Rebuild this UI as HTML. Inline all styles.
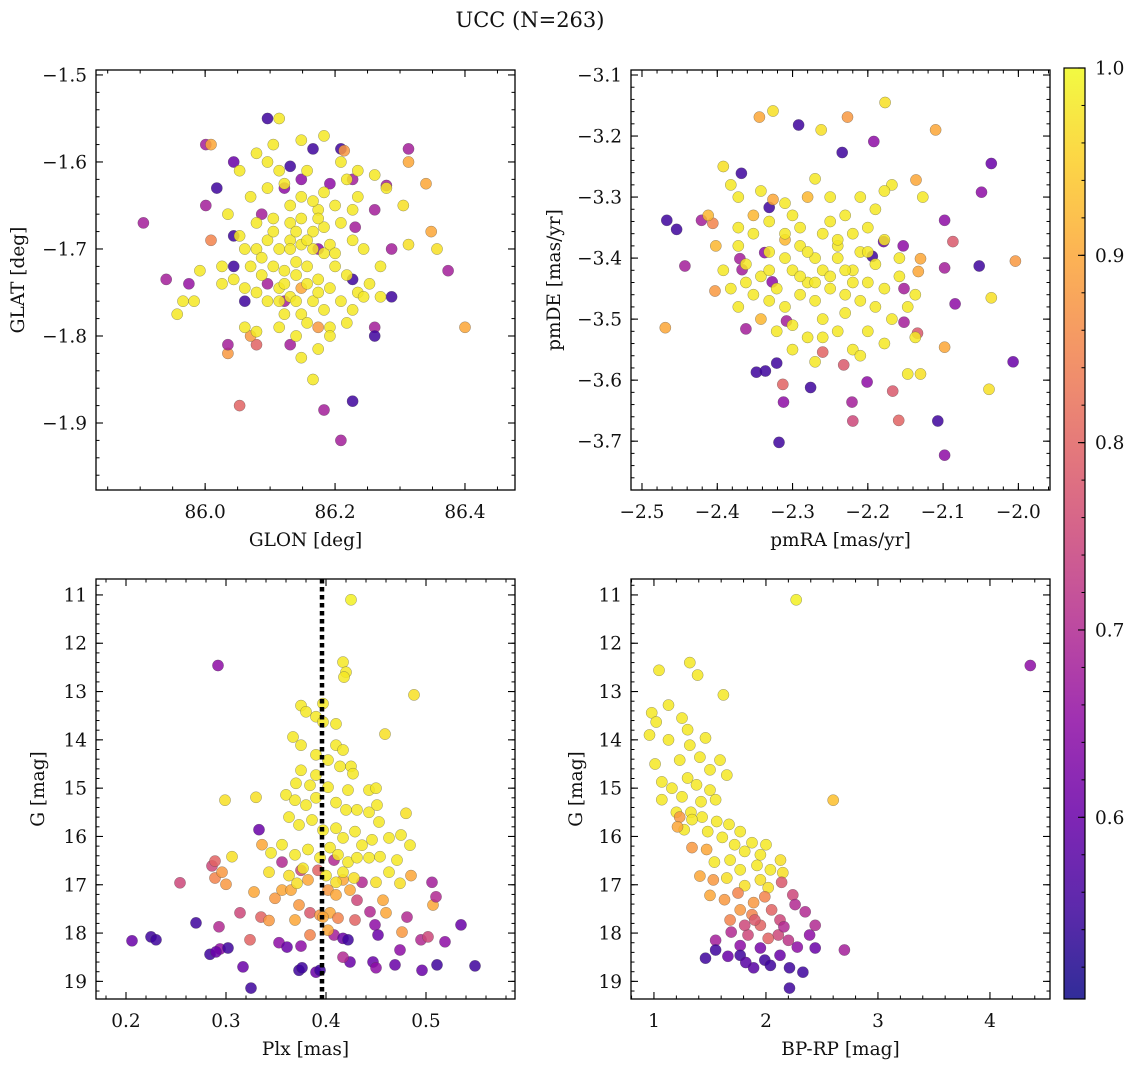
<!DOCTYPE html>
<html><head><meta charset="utf-8"><style>
html,body{margin:0;padding:0;background:#fff}
svg{display:block}
text{font-family:"DejaVu Serif","Liberation Serif",serif;fill:#111}
</style></head><body>
<svg id="fig" width="1136" height="1067" viewBox="0 0 1136 1067" xmlns="http://www.w3.org/2000/svg">
<text x="530" y="27" font-size="21" text-anchor="middle">UCC (N=263)</text>
</svg>
<script>
// ---------- data: [x, y, membership probability] ----------
const glonGlatStars = [[85.905,-1.67,.68],[85.94,-1.735,.68],[85.975,-1.74,.66],[86.001,-1.58,.68],[86.009,-1.58,.9],[86.044,-1.60,.6],[86.018,-1.63,.55],[86.001,-1.65,.68],[86.044,-1.685,.55],[86.009,-1.69,.85],[86.044,-1.72,.55],[86.061,-1.76,.55],[86.035,-1.82,.88],[86.035,-1.81,.68],[86.053,-1.88,.8],[86.096,-1.55,.55],[86.131,-1.605,.55],[86.087,-1.66,.68],[86.122,-1.63,.65],[86.166,-1.585,.55],[86.148,-1.62,.65],[86.192,-1.625,.65],[86.209,-1.585,.55],[86.214,-1.587,.88],[86.227,-1.62,.68],[86.261,-1.655,.68],[86.231,-1.675,.68],[86.287,-1.70,.68],[86.313,-1.585,.68],[86.313,-1.60,.9],[86.340,-1.625,.9],[86.348,-1.68,.9],[86.374,-1.725,.68],[86.40,-1.79,.9],[86.313,-1.695,.97],[86.357,-1.70,.97],[86.305,-1.65,.97],[86.261,-1.79,.68],[86.261,-1.80,.55],[86.227,-1.875,.55],[86.183,-1.885,.68],[86.209,-1.92,.68],[86.287,-1.755,.55],[86.096,-1.74,.68],[86.131,-1.81,.68],[86.079,-1.81,.8],[86.070,-1.80,.88],[86.174,-1.79,.88],[86.148,-1.745,.9],[86.279,-1.627,.68],[86.227,-1.735,.55],[86.174,-1.70,.65],[86.122,-1.76,.68],
[86.114,-1.55,.98],[86.183,-1.57,.98],[86.209,-1.60,.98],[86.079,-1.59,.98],[86.096,-1.60,.98],[86.053,-1.61,.98],[86.157,-1.61,.98],[86.235,-1.61,.98],[86.261,-1.615,.98],[86.279,-1.63,.98],[86.235,-1.64,.98],[86.2,-1.65,.98],[86.174,-1.655,.98],[86.122,-1.625,.98],[86.096,-1.63,.98],[86.07,-1.64,.98],[86.035,-1.66,.98],[86.053,-1.685,.98],[86.061,-1.70,.98],[86.079,-1.67,.98],[86.105,-1.665,.98],[86.131,-1.67,.98],[86.148,-1.665,.98],[86.166,-1.68,.98],[86.183,-1.675,.98],[86.209,-1.67,.98],[86.227,-1.69,.98],[86.244,-1.70,.98],[86.27,-1.72,.98],[86.253,-1.74,.98],[86.235,-1.75,.98],[86.218,-1.73,.98],[86.2,-1.72,.98],[86.183,-1.705,.98],[86.166,-1.70,.98],[86.148,-1.695,.98],[86.131,-1.69,.98],[86.114,-1.70,.98],[86.096,-1.69,.98],[86.079,-1.70,.98],[86.07,-1.72,.98],[86.087,-1.73,.98],[86.105,-1.72,.98],[86.122,-1.725,.98],[86.14,-1.73,.98],[86.157,-1.72,.98],[86.174,-1.735,.98],[86.192,-1.745,.98],[86.209,-1.76,.98],[86.227,-1.77,.98],[86.244,-1.755,.98],[86.27,-1.755,.98],[86.183,-1.77,.98],[86.166,-1.76,.98],[86.148,-1.775,.98],[86.131,-1.755,.98],[86.114,-1.745,.98],[86.096,-1.76,.98],[86.079,-1.75,.98],[86.061,-1.745,.98],[86.044,-1.735,.98],[86.026,-1.72,.98],[85.992,-1.725,.98],[85.966,-1.76,.98],[85.957,-1.775,.98],[85.983,-1.76,.98],[86.026,-1.74,.98],[86.061,-1.79,.98],[86.079,-1.795,.98],[86.114,-1.79,.98],[86.14,-1.80,.98],[86.157,-1.785,.98],[86.192,-1.79,.98],[86.218,-1.785,.98],[86.148,-1.825,.98],[86.166,-1.85,.98],[86.174,-1.815,.98],[86.192,-1.80,.98],[86.131,-1.65,.98],[86.148,-1.64,.98],[86.166,-1.645,.98],[86.183,-1.635,.98],[86.105,-1.58,.98],[86.148,-1.575,.98],[86.218,-1.62,.98],[86.227,-1.655,.98],[86.114,-1.61,.98],[86.131,-1.70,.98],[86.122,-1.74,.98],[86.14,-1.715,.98],[86.157,-1.74,.98],[86.174,-1.75,.98],[86.192,-1.695,.98],[86.2,-1.705,.98],[86.087,-1.71,.98],[86.105,-1.68,.98],[86.14,-1.68,.98],[86.157,-1.69,.98],[86.174,-1.665,.98],[86.114,-1.76,.98],[86.122,-1.775,.98],[86.14,-1.76,.98]];

const pmStars = [[-2.467,-3.338,.55],[-2.454,-3.353,.55],[-2.421,-3.338,.68],[-2.406,-3.343,.85],[-2.469,-3.514,.9],[-2.443,-3.413,.68],[-2.403,-3.454,.88],[-2.368,-3.261,.55],[-2.37,-3.401,.68],[-2.367,-3.419,.68],[-2.348,-3.587,.55],[-2.336,-3.585,.55],[-2.321,-3.572,.55],[-2.337,-3.391,.65],[-2.331,-3.317,.55],[-2.326,-3.304,.9],[-2.327,-3.439,.65],[-2.362,-3.516,.68],[-2.344,-3.169,.9],[-2.326,-3.159,.97],[-2.292,-3.182,.55],[-2.308,-3.503,.68],[-2.313,-3.607,.8],[-2.276,-3.612,.55],[-2.312,-3.636,.65],[-2.318,-3.702,.55],[-2.234,-3.227,.55],[-2.227,-3.169,.88],[-2.221,-3.636,.68],[-2.22,-3.667,.75],[-2.232,-3.575,.78],[-2.26,-3.554,.8],[-2.201,-3.603,.65],[-2.192,-3.209,.65],[-2.179,-3.373,.6],[-2.153,-3.38,.65],[-2.152,-3.45,.68],[-2.152,-3.505,.68],[-2.167,-3.618,.78],[-2.159,-3.666,.8],[-2.134,-3.523,.78],[-2.133,-3.422,.9],[-2.13,-3.401,.9],[-2.098,-3.416,.68],[-2.098,-3.338,.65],[-2.098,-3.546,.9],[-2.107,-3.667,.55],[-2.098,-3.723,.65],[-2.084,-3.475,.65],[-2.087,-3.373,.78],[-2.052,-3.413,.55],[-2.049,-3.292,.65],[-2.036,-3.245,.6],[-2.007,-3.57,.6],[-2.004,-3.405,.88],[-2.039,-3.615,.97],[-2.036,-3.465,.97],[-2.11,-3.19,.9],[-2.136,-3.272,.9],[-2.177,-3.145,.97],[-2.262,-3.19,.97],[-2.13,-3.59,.97],[-2.194,-3.397,.55],
[-2.392,-3.25,.97],[-2.382,-3.28,.98],[-2.372,-3.30,.98],[-2.352,-3.33,.92],[-2.331,-3.34,.98],[-2.31,-3.31,.98],[-2.3,-3.33,.98],[-2.28,-3.30,.92],[-2.27,-3.27,.98],[-2.25,-3.30,.98],[-2.23,-3.33,.98],[-2.21,-3.30,.98],[-2.19,-3.32,.98],[-2.168,-3.28,.98],[-2.26,-3.36,.98],[-2.24,-3.38,.98],[-2.22,-3.36,.98],[-2.2,-3.35,.98],[-2.178,-3.37,.98],[-2.158,-3.40,.98],[-2.29,-3.38,.98],[-2.31,-3.37,.92],[-2.331,-3.39,.98],[-2.352,-3.36,.98],[-2.372,-3.38,.98],[-2.392,-3.42,.98],[-2.382,-3.45,.98],[-2.362,-3.41,.98],[-2.342,-3.43,.98],[-2.321,-3.45,.98],[-2.3,-3.42,.98],[-2.28,-3.44,.98],[-2.26,-3.42,.98],[-2.24,-3.40,.98],[-2.22,-3.42,.98],[-2.2,-3.44,.98],[-2.178,-3.45,.98],[-2.158,-3.43,.98],[-2.137,-3.46,.98],[-2.147,-3.48,.98],[-2.168,-3.50,.98],[-2.19,-3.48,.98],[-2.21,-3.47,.98],[-2.23,-3.46,.98],[-2.25,-3.45,.98],[-2.27,-3.47,.98],[-2.29,-3.46,.98],[-2.31,-3.48,.98],[-2.331,-3.47,.98],[-2.352,-3.46,.98],[-2.372,-3.48,.98],[-2.342,-3.50,.92],[-2.321,-3.52,.98],[-2.3,-3.51,.98],[-2.28,-3.53,.98],[-2.26,-3.50,.98],[-2.24,-3.52,.98],[-2.22,-3.55,.98],[-2.2,-3.52,.98],[-2.178,-3.54,.98],[-2.23,-3.49,.98],[-2.27,-3.40,.98],[-2.29,-3.35,.98],[-2.25,-3.34,.98],[-2.21,-3.39,.98],[-2.19,-3.41,.98],[-2.31,-3.40,.98],[-2.331,-3.42,.98],[-2.362,-3.44,.98],[-2.3,-3.55,.98],[-2.27,-3.57,.98],[-2.21,-3.56,.98],[-2.147,-3.59,.98],[-2.23,-3.42,.98],[-2.25,-3.43,.98],[-2.27,-3.44,.98],[-2.29,-3.43,.98],[-2.22,-3.44,.98],[-2.28,-3.39,.98],[-2.31,-3.36,.98],[-2.24,-3.37,.98],[-2.2,-3.39,.98],[-2.372,-3.35,.98],[-2.402,-3.38,.92],[-2.412,-3.33,.92],[-2.178,-3.29,.98],[-2.127,-3.30,.98],[-2.137,-3.53,.98],[-2.342,-3.29,.98],[-2.26,-3.53,.98]];

const plxGStars = [[0.206,18.16,.6],[0.225,18.08,.55],[0.23,18.14,.55],[0.254,16.96,.75],[0.27,17.79,.55],[0.284,18.44,.55],[0.292,12.46,.65],[0.286,16.61,.75],[0.289,16.51,.8],[0.289,16.86,.85],[0.296,16.74,.88],[0.293,17.87,.7],[0.294,18.33,.65],[0.29,18.39,.6],[0.302,18.31,.55],[0.3,16.99,.88],[0.314,17.58,.75],[0.317,18.7,.6],[0.325,19.14,.55],[0.324,18.14,.8],[0.333,15.86,.6],[0.336,16.17,.9],[0.335,17.67,.8],[0.328,17.15,.9],[0.343,17.74,.88],[0.353,18.2,.65],[0.361,18.29,.6],[0.375,18.27,.65],[0.373,18.77,.55],[0.376,18.72,.55],[0.349,17.28,.88],[0.356,17.11,.9],[0.356,16.53,.7],[0.365,17.11,.9],[0.373,17.42,.88],[0.369,17.73,.9],[0.384,17.58,.78],[0.384,18.04,.85],[0.39,18.81,.6],[0.394,18.77,.55],[0.394,17.63,.88],[0.404,17.58,.9],[0.402,17.11,.88],[0.41,17.21,.9],[0.412,17.69,.85],[0.408,18.04,.68],[0.417,18.11,.6],[0.422,18.14,.55],[0.424,18.6,.6],[0.417,18.5,.7],[0.429,17.73,.8],[0.431,17.32,.75],[0.436,16.95,.7],[0.444,17.56,.7],[0.449,17.83,.65],[0.452,18.04,.6],[0.447,18.6,.6],[0.45,18.72,.65],[0.457,17.32,.9],[0.46,17.58,.9],[0.474,18.35,.65],[0.469,18.66,.6],[0.476,17.98,.88],[0.481,17.67,.7],[0.485,16.81,.9],[0.495,18.14,.7],[0.496,18.77,.6],[0.506,16.95,.68],[0.507,17.42,.9],[0.51,17.25,.7],[0.502,18.08,.75],[0.511,18.66,.55],[0.519,18.18,.65],[0.535,17.83,.6],[0.549,18.68,.55],[0.397,17.67,.9],[0.402,17.94,.9],[0.424,17.11,.9],[0.417,16.9,.9],[0.382,16.9,.9],[0.375,16.7,.75],[0.392,16.7,.8],[0.408,16.49,.7],
[0.425,11.1,.99],[0.417,12.39,.98],[0.42,12.6,.98],[0.418,12.7,.98],[0.488,13.07,.97],[0.397,13.25,.98],[0.375,13.29,.98],[0.38,13.42,.98],[0.39,13.52,.98],[0.397,13.63,.98],[0.41,13.67,.98],[0.459,13.88,.97],[0.367,13.94,.98],[0.375,14.11,.98],[0.41,14.11,.98],[0.417,14.21,.98],[0.39,14.31,.98],[0.402,14.42,.98],[0.414,14.55,.98],[0.425,14.55,.98],[0.427,14.7,.98],[0.375,14.63,.98],[0.39,14.73,.98],[0.37,14.9,.98],[0.384,14.94,.98],[0.402,14.98,.98],[0.422,15.04,.98],[0.443,15.04,.98],[0.45,15.0,.98],[0.299,15.25,.97],[0.33,15.19,.97],[0.36,15.14,.98],[0.369,15.25,.98],[0.38,15.35,.98],[0.39,15.2,.98],[0.41,15.3,.98],[0.42,15.45,.98],[0.431,15.45,.98],[0.443,15.5,.98],[0.451,15.35,.98],[0.48,15.52,.97],[0.453,15.7,.98],[0.363,15.6,.98],[0.373,15.76,.98],[0.386,15.66,.98],[0.397,15.87,.98],[0.41,15.83,.98],[0.417,16.03,.98],[0.429,15.9,.98],[0.436,16.18,.98],[0.446,16.07,.98],[0.463,16.03,.98],[0.475,15.97,.98],[0.484,16.18,.98],[0.306,16.42,.97],[0.345,16.34,.98],[0.356,16.17,.98],[0.369,16.38,.98],[0.382,16.27,.98],[0.394,16.44,.98],[0.404,16.23,.98],[0.412,16.38,.98],[0.422,16.53,.98],[0.431,16.44,.98],[0.443,16.44,.98],[0.454,16.42,.98],[0.471,16.49,.98],[0.343,16.74,.97],[0.363,16.81,.97],[0.377,16.66,.98],[0.4,16.81,.98],[0.417,16.74,.98],[0.428,16.86,.97],[0.45,16.95,.97],[0.463,16.74,.98],[0.474,16.97,.97],[0.371,16.97,.97],[0.41,16.95,.97]];

const colorGStars = [[2.27,11.1,.99],[1.045,12.56,.98],[1.32,12.4,.98],[1.39,12.66,.98],[1.13,13.28,.98],[1.62,13.07,.98],[0.98,13.44,.98],[1.02,13.63,.98],[1.25,13.55,.98],[1.30,13.79,.98],[0.96,13.9,.98],[1.46,13.96,.98],[1.13,14.0,.98],[1.32,14.11,.98],[1.01,14.5,.98],[1.23,14.42,.98],[1.41,14.36,.98],[1.59,14.42,.98],[1.65,14.73,.98],[1.5,14.62,.98],[1.07,14.87,.98],[1.16,15.0,.98],[1.30,14.79,.98],[1.38,14.93,.98],[1.5,15.04,.98],[1.55,15.24,.98],[1.25,15.18,.98],[1.07,15.24,.98],[1.42,15.28,.98],[1.33,15.5,.98],[1.2,15.5,.98],[1.43,15.6,.98],[1.56,15.69,.98],[1.67,15.75,.98],[1.77,15.9,.98],[1.48,15.9,.98],[1.61,16.02,.98],[1.72,16.17,.98],[1.875,16.13,.98],[2.0,16.17,.98],[1.81,16.31,.98],[1.95,16.38,.98],[1.68,16.49,.98],[1.54,16.53,.98],[1.92,16.6,.98],[2.04,16.69,.98],[1.77,16.69,.98],[2.15,16.75,.97],[1.65,16.86,.97],[1.95,16.9,.97],[2.02,17.06,.97],[1.81,17.02,.97],[2.13,16.49,.97],[1.34,15.65,.98],[1.27,15.86,.98],[2.6,15.25,.93],
[1.23,15.6,.88],[1.21,15.8,.9],[1.34,16.23,.88],[1.47,16.27,.9],[1.41,16.82,.9],[1.53,16.9,.88],[1.5,17.22,.9],[1.63,17.31,.88],[1.75,17.17,.85],[1.89,17.37,.88],[1.99,17.25,.85],[2.05,17.52,.8],[1.875,17.62,.85],[1.77,17.52,.88],[1.68,17.73,.85],[1.95,17.84,.8],[2.125,17.73,.75],[2.24,17.21,.75],[2.14,16.95,.78],[2.26,17.41,.7],[2.35,17.56,.7],[2.11,18.04,.75],[2.02,18.11,.8],[1.84,18.04,.75],[2.2,18.15,.72],[2.39,18.04,.65],[2.28,18.29,.65],[2.44,18.31,.6],[1.69,17.98,.7],[1.55,18.15,.68],[1.77,18.26,.65],[1.95,18.31,.62],[1.66,18.48,.6],[1.46,18.52,.55],[1.55,18.35,.55],[1.77,18.46,.55],[1.99,18.56,.55],[2.125,18.46,.6],[2.04,18.67,.55],[2.21,18.72,.55],[2.33,18.81,.55],[2.21,19.14,.55],[1.89,18.72,.58],[1.82,18.61,.58],[2.7,18.35,.68],[4.36,12.46,.65],[2.44,17.84,.7],[1.9,17.73,.78],[1.81,17.84,.75],[2.16,17.87,.7]];

const plxMarker = [0.396];
const glonTicks = [86.0, 86.2, 86.4];
const glatTicks = [-1.5, -1.6, -1.7, -1.8, -1.9];
const pmraTicks = [-2.5, -2.4, -2.3, -2.2, -2.1, -2.0];
const pmdeTicks = [-3.1, -3.2, -3.3, -3.4, -3.5, -3.6, -3.7];
const plxTicks = [0.2, 0.3, 0.4, 0.5];
const gTicks = [11, 12, 13, 14, 15, 16, 17, 18, 19];
const bprpTicks = [1, 2, 3, 4];
const cbarTicks = [1.0, 0.9, 0.8, 0.7, 0.6];

// ---------- rendering ----------
const NS = "http://www.w3.org/2000/svg";
const svg = document.getElementById('fig');
const FS = 18.5;
const CMIN = 0.503, CMAX = 1.0;
const plasma = [[0,13,8,135],[0.1,65,4,157],[0.2,106,0,168],[0.3,143,13,164],[0.4,177,42,144],[0.5,204,71,120],[0.6,225,100,98],[0.7,242,132,75],[0.8,252,166,54],[0.9,252,206,37],[1,240,249,33]];
function cmap(v){
  let t = Math.max(0, Math.min(1, (v - CMIN) / (CMAX - CMIN)));
  for (let i = 1; i < plasma.length; i++) {
    if (t <= plasma[i][0]) {
      const a = plasma[i-1], b = plasma[i], f = (t - a[0]) / (b[0] - a[0]);
      return 'rgb(' + [1,2,3].map(k => Math.round(a[k] + f*(b[k]-a[k]))).join(',') + ')';
    }
  }
  return 'rgb(240,249,33)';
}
function el(tag, attrs, parent){
  const e = document.createElementNS(NS, tag);
  for (const k in attrs) e.setAttribute(k, attrs[k]);
  (parent || svg).appendChild(e);
  return e;
}
function fmt(v, d){ const s = v.toFixed(d); return s.replace('-', '\u2212'); }

function panel(o){
  const g = el('g', {});
  
  
  const sx = v => o.L + (v - o.x0) / (o.x1 - o.x0) * (o.R - o.L);
  const sy = v => o.T + (v - o.y0) / (o.y1 - o.y0) * (o.B - o.T);
  const pg = el('g', {}, g);
  
  
  o.data.forEach(p => {
    const c = el('circle', {cx: sx(p[0]).toFixed(1), cy: sy(p[1]).toFixed(1), r: 5.6, fill: cmap(p[2]), 'fill-opacity': 0.85, stroke: 'rgba(70,70,70,0.55)', 'stroke-width': 0.5}, pg);
    
    
  });
  if (o.extra) o.extra(g, sx, sy);
  const fr = el('rect', {x: o.L, y: o.T, width: o.R - o.L, height: o.B - o.T, fill: 'none', stroke: '#000', 'stroke-width': 1.3}, g);
  
  
  const lo = (a,b) => Math.min(a,b), hi = (a,b) => Math.max(a,b);
  for (let v = Math.ceil(lo(o.x0,o.x1)/o.xm - 1e-6) * o.xm; v <= hi(o.x0,o.x1) + 1e-9; v += o.xm) {
    const x = sx(v);
    el('line', {x1: x, x2: x, y1: o.B, y2: o.B - 3.5, stroke: '#000', 'stroke-width': 1}, g);
    el('line', {x1: x, x2: x, y1: o.T, y2: o.T + 3.5, stroke: '#000', 'stroke-width': 1}, g);
  }
  for (let v = Math.ceil(lo(o.y0,o.y1)/o.ym - 1e-6) * o.ym; v <= hi(o.y0,o.y1) + 1e-9; v += o.ym) {
    const y = sy(v);
    el('line', {x1: o.L, x2: o.L + 3.5, y1: y, y2: y, stroke: '#000', 'stroke-width': 1}, g);
    el('line', {x1: o.R, x2: o.R - 3.5, y1: y, y2: y, stroke: '#000', 'stroke-width': 1}, g);
  }
  o.xt.forEach(v => {
    const x = sx(v);
    el('line', {x1: x, x2: x, y1: o.B, y2: o.B - 7, stroke: '#000', 'stroke-width': 1.1}, g);
    el('line', {x1: x, x2: x, y1: o.T, y2: o.T + 7, stroke: '#000', 'stroke-width': 1.1}, g);
    const t = el('text', {x: x, y: o.B + 28, 'font-size': FS, 'text-anchor': 'middle'}, g);
    t.textContent = fmt(v, o.xd);
    
    
  });
  o.yt.forEach(v => {
    const y = sy(v);
    el('line', {x1: o.L, x2: o.L + 7, y1: y, y2: y, stroke: '#000', 'stroke-width': 1.1}, g);
    el('line', {x1: o.R, x2: o.R - 7, y1: y, y2: y, stroke: '#000', 'stroke-width': 1.1}, g);
    const t = el('text', {x: o.L - 9, y: y + 6.5, 'font-size': FS, 'text-anchor': 'end'}, g);
    t.textContent = fmt(v, o.yd);
    
    
  });
  const xl = el('text', {x: (o.L + o.R) / 2, y: o.B + 56, 'font-size': FS, 'text-anchor': 'middle'}, g);
  xl.textContent = o.xlabel;
  
  
  const yl = el('text', {x: 0, y: 0, 'font-size': FS, 'text-anchor': 'middle', transform: 'translate(' + o.ylx + ',' + ((o.T + o.B) / 2) + ') rotate(-90)'}, g);
  yl.textContent = o.ylabel;
  
  
}

panel({name:'glon-glat-panel', L:96, R:515, T:70, B:490, x0:85.832, x1:86.477, y0:-1.4943, y1:-1.9770, xm:0.05, ym:0.02, xt:glonTicks, yt:glatTicks, xd:1, yd:1, data:glonGlatStars, xlabel:'GLON [deg]', ylabel:'GLAT [deg]', ylx:24});
panel({name:'proper-motion-panel', L:631, R:1050, T:70, B:490, x0:-2.5146, x1:-1.958, y0:-3.0918, y1:-3.780, xm:0.02, ym:0.02, xt:pmraTicks, yt:pmdeTicks, xd:1, yd:1, data:pmStars, xlabel:'pmRA [mas/yr]', ylabel:'pmDE [mas/yr]', ylx:560});
panel({name:'plx-g-panel', L:96, R:515, T:579, B:999, x0:0.17, x1:0.589, y0:10.67, y1:19.365, xm:0.02, ym:0.2, xt:plxTicks, yt:gTicks, xd:1, yd:0, data:plxGStars, xlabel:'Plx [mas]', ylabel:'G [mag]', ylx:44,
  extra:(g, sx, sy) => {
    plxMarker.forEach(v => {
      const ln = el('line', {x1: sx(v), x2: sx(v), y1: 579, y2: 999, stroke: '#000', 'stroke-width': 4.5, 'stroke-dasharray': '4.5,3.5'}, g);
      
      
    });
  }});
panel({name:'cmd-panel', L:631, R:1050, T:579, B:999, x0:0.795, x1:4.536, y0:10.67, y1:19.365, xm:0.2, ym:0.2, xt:bprpTicks, yt:gTicks, xd:0, yd:0, data:colorGStars, xlabel:'BP-RP [mag]', ylabel:'G [mag]', ylx:582});

(function(){
  const L = 1064, R = 1085, T = 68, B = 999;
  const sy = v => T + (CMAX - v) / (CMAX - CMIN) * (B - T);
  const cg = el('g', {});
  
  
  const defs = el('defs', {}, cg);
  const lg = el('linearGradient', {id: 'cbg', x1: 0, y1: 1, x2: 0, y2: 0}, defs);
  for (let i = 0; i <= 20; i++) {
    const v = CMIN + (CMAX - CMIN) * i / 20;
    el('stop', {offset: (i / 20).toFixed(3), 'stop-color': cmap(v)}, lg);
  }
  el('rect', {x: L, y: T, width: R - L, height: B - T, fill: 'url(#cbg)', 'fill-opacity': 0.85}, cg);
  el('rect', {x: L, y: T, width: R - L, height: B - T, fill: 'none', stroke: '#000', 'stroke-width': 1.2}, cg);
  for (let v = 0.52; v <= 1.0001; v += 0.02) {
    const y = sy(v);
    el('line', {x1: R, x2: R - 3.5, y1: y, y2: y, stroke: '#000', 'stroke-width': 1}, cg);
  }
  cbarTicks.forEach(v => {
    const y = sy(v);
    el('line', {x1: R, x2: R - 7, y1: y, y2: y, stroke: '#000', 'stroke-width': 1.1}, cg);
    const t = el('text', {x: R + 10, y: y + 6.5, 'font-size': FS}, cg);
    t.textContent = v.toFixed(1);
    
    
  });
})();
</script>
</body></html>
